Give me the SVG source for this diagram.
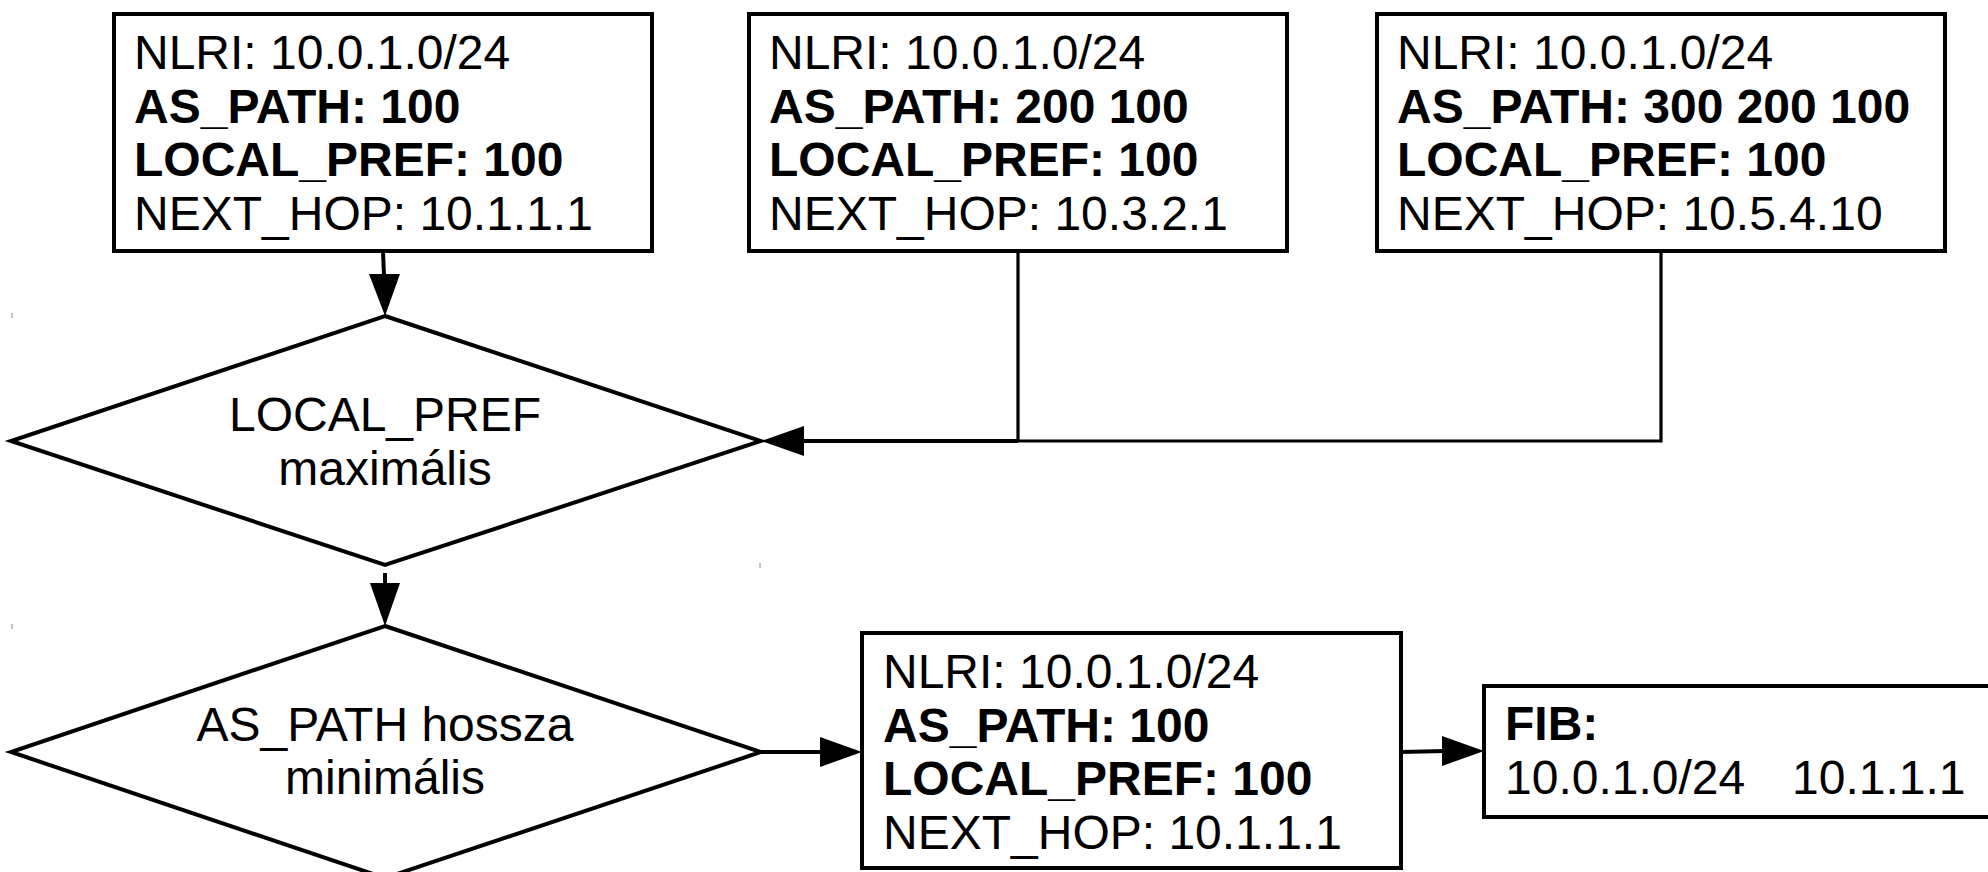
<svg xmlns="http://www.w3.org/2000/svg" width="1988" height="872" viewBox="0 0 1988 872">
<style>
.shape{fill:#fff;stroke:#000;stroke-width:4}
.t{font-family:"Liberation Sans",Arial,sans-serif;font-size:48px;fill:#000}
.b{font-weight:bold}
.c{text-anchor:middle}
.ln{fill:none;stroke:#000;stroke-width:4}
.thin{fill:none;stroke:#000;stroke-width:3.2}
.ah{fill:#000;stroke:none}
.tick{stroke:#888;stroke-width:1}
</style>
<rect width="1988" height="872" fill="#fff"/>
<g id="ticks">
<line class="tick" x1="12" y1="313" x2="12" y2="318"/>
<line class="tick" x1="12" y1="624" x2="12" y2="629"/>
<line class="tick" x1="760" y1="563" x2="760" y2="568"/>
</g>
<g id="connectors">
<path class="ln" d="M383,251 L384,276"/>
<polygon class="ah" points="369,274 400,274 385,316"/>
<path class="ln" d="M385,573 L385,585"/>
<polygon class="ah" points="370,583 400,583 385,626"/>
<path class="thin" d="M1018,251 L1018,441"/>
<path class="thin" d="M1661,251 L1661,441 L1018,441"/>
<path class="ln" d="M1018,441 L800,441"/>
<polygon class="ah" points="761,441 804,426 804,456"/>
<path class="ln" d="M761,752 L822,752"/>
<polygon class="ah" points="862,752 820,737 820,767"/>
<path class="ln" d="M1401,752 L1446,751"/>
<polygon class="ah" points="1484,751 1442,736 1442,766"/>
</g>
<g id="box1">
<rect class="shape" x="114" y="14" width="538" height="237"/>
<text class="t" x="134" y="69">NLRI: 10.0.1.0/24</text>
<text class="t b" x="134" y="123">AS_PATH: 100</text>
<text class="t b" x="134" y="176">LOCAL_PREF: 100</text>
<text class="t" x="134" y="230">NEXT_HOP: 10.1.1.1</text>
</g>
<g id="box2">
<rect class="shape" x="749" y="14" width="538" height="237"/>
<text class="t" x="769" y="69">NLRI: 10.0.1.0/24</text>
<text class="t b" x="769" y="123">AS_PATH: 200 100</text>
<text class="t b" x="769" y="176">LOCAL_PREF: 100</text>
<text class="t" x="769" y="230">NEXT_HOP: 10.3.2.1</text>
</g>
<g id="box3">
<rect class="shape" x="1377" y="14" width="568" height="237"/>
<text class="t" x="1397" y="69">NLRI: 10.0.1.0/24</text>
<text class="t b" x="1397" y="123">AS_PATH: 300 200 100</text>
<text class="t b" x="1397" y="176">LOCAL_PREF: 100</text>
<text class="t" x="1397" y="230">NEXT_HOP: 10.5.4.10</text>
</g>
<g id="diamond1">
<polygon class="shape" points="385,316 761,441 385,565 11,441"/>
<text class="t c" x="385" y="431">LOCAL_PREF</text>
<text class="t c" x="385" y="485">maximális</text>
</g>
<g id="diamond2">
<polygon class="shape" points="385,626 761,752 385,878 11,752"/>
<text class="t c" x="385" y="741">AS_PATH hossza</text>
<text class="t c" x="385" y="794">minimális</text>
</g>
<g id="box4">
<rect class="shape" x="862" y="633" width="539" height="235"/>
<text class="t" x="883" y="688">NLRI: 10.0.1.0/24</text>
<text class="t b" x="883" y="742">AS_PATH: 100</text>
<text class="t b" x="883" y="795">LOCAL_PREF: 100</text>
<text class="t" x="883" y="849">NEXT_HOP: 10.1.1.1</text>
</g>
<g id="fib">
<rect class="shape" x="1484" y="686" width="520" height="131"/>
<text class="t b" x="1505" y="740">FIB:</text>
<text class="t" x="1505" y="794">10.0.1.0/24</text>
<text class="t" x="1792" y="794">10.1.1.1</text>
</g>
</svg>
